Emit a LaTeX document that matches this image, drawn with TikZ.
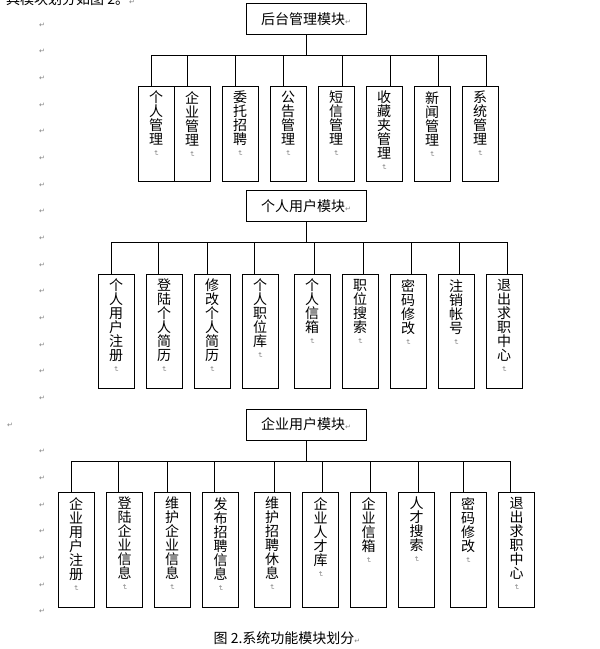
\documentclass[tikz,border=0pt]{standalone}
\usepackage{fontspec}
\setmainfont{Noto Sans CJK SC}
\newfontfamily\markfont{DejaVu Sans}
\usetikzlibrary{positioning}
\newcommand\pmark{{\markfont\fontsize{7}{7}\selectfont\textcolor{gray}{↵}}}
\newcommand\vmark{\rotatebox{-90}{\pmark}}
\tikzset{
  modbox/.style={draw, line width=0.9pt, minimum width=120pt, minimum height=31pt, inner sep=0pt, font=\fontsize{14}{14}\selectfont},
  leafbox/.style={draw, line width=0.9pt, minimum width=36pt, minimum height=#1, anchor=north, inner sep=0pt},
  leaftext/.style={align=center, anchor=north, inner sep=0pt, font=\fontsize{14}{14}\selectfont},
  link/.style={line width=0.9pt},
}
\begin{document}
\begin{tikzpicture}[x=1pt, y=-1pt]
    \useasboundingbox (0,0) rectangle (600,649);
    \foreach \k in {0,...,22}{
        \ifnum\k=15 \def\mx{10}\else\def\mx{42}\fi
        \node[inner sep=0pt] (pm\k) at (\mx, {25+26.67*\k}) {\pmark};
    }
    \node[anchor=base west, inner sep=0pt, font=\fontsize{14}{14}\selectfont] (intro) at (6,4) {具模块划分如图 2。\pmark};

    \node[modbox] (admin) at (306,19) {后台管理模块\pmark};
    \foreach \x/\d/\t [count=\i] in {156/-5/{个\\人\\管\\理}, 192/-5/{企\\业\\管\\理}, 240/-5/{委\\托\\招\\聘}, 288/-5/{公\\告\\管\\理}, 336/6/{短\\信\\管\\理}, 384/6/{收\\藏\\夹\\管\\理}, 432/6/{新\\闻\\管\\理}, 480/6/{系\\统\\管\\理}}{
        \node[leafbox=95pt] (a\i) at (\x,86) {};
        \node[leaftext] (at\i) at ([yshift=-5pt]a\i.north) {\t\\[-8pt]\vmark};
        \draw[link] ([xshift=\d]a\i.north) -- ++(0,-31) -| (admin.south);
    }

    \node[modbox] (user) at (306,206) {个人用户模块\pmark};
    \foreach \x/\d/\t [count=\i] in {116/-5/{个\\人\\用\\户\\注\\册}, 164/-6/{登\\陆\\个\\人\\简\\历}, 212/-5/{修\\改\\个\\人\\简\\历}, 260/-6/{个\\人\\职\\位\\库}, 312/2/{个\\人\\信\\箱}, 360/3/{职\\位\\搜\\索}, 408/3/{密\\码\\修\\改}, 456/3/{注\\销\\帐\\号}, 504/3/{退\\出\\求\\职\\中\\心}}{
        \node[leafbox=114pt] (b\i) at (\x,274) {};
        \node[leaftext] (bt\i) at ([yshift=-5pt]b\i.north) {\t\\[-8pt]\vmark};
        \draw[link] ([xshift=\d]b\i.north) -- ++(0,-32) -| (user.south);
    }

    \node[modbox] (corp) at (306,424.5) {企业用户模块\pmark};
    \foreach \x/\d/\t [count=\i] in {76/-5/{企\\业\\用\\户\\注\\册}, 124.5/-6/{登\\陆\\企\\业\\信\\息}, 172/-5/{维\\护\\企\\业\\信\\息}, 220.5/-6/{发\\布\\招\\聘\\信\\息}, 272/2/{维\\护\\招\\聘\\休\\息}, 320.5/2/{企\\业\\人\\才\\库}, 368.5/2/{企\\业\\信\\箱}, 416.5/2/{人\\才\\搜\\索}, 468/-5/{密\\码\\修\\改}, 516.5/-6/{退\\出\\求\\职\\中\\心}}{
        \node[leafbox=115pt] (c\i) at (\x,492) {};
        \node[leaftext] (ct\i) at ([yshift=-5pt]c\i.north) {\t\\[-8pt]\vmark};
        \draw[link] ([xshift=\d]c\i.north) -- ++(0,-31) -| (corp.south);
    }

    \node[font=\fontsize{14}{14}\selectfont, inner sep=0pt] (cap) at (287,638) {图 2.系统功能模块划分\pmark};
\end{tikzpicture}
\end{document}
